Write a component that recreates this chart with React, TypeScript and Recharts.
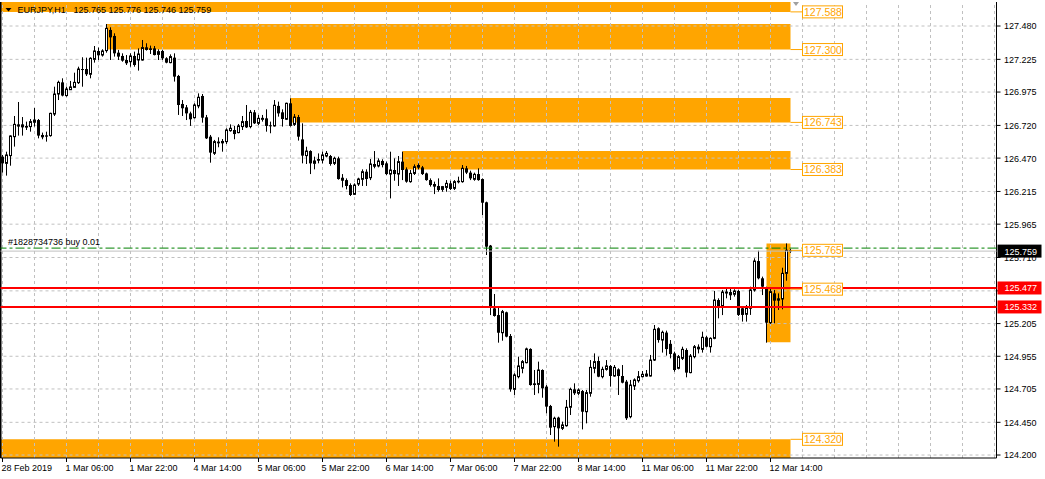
import React from "react";
import { ComposedChart, Bar, XAxis, YAxis, ReferenceLine, ReferenceArea } from "recharts";

// EURJPY H1, one entry per hourly bar (28 Feb 2019 14:00 .. 12 Mar 2019 19:00)
const opens = [
  126.481, 126.430, 126.489, 126.634, 126.728, 126.728, 126.716, 126.711, 126.744, 126.761,
  126.647, 126.644, 126.642, 126.807, 126.960, 127.049, 126.948, 126.993, 127.011, 127.047,
  127.151, 127.151, 127.111, 127.225, 127.289, 127.258, 127.292, 127.450, 127.404, 127.276,
  127.251, 127.220, 127.207, 127.251, 127.220, 127.220, 127.317, 127.309, 127.309, 127.263,
  127.289, 127.233, 127.200, 127.238, 127.098, 126.884, 126.858, 126.812, 126.779, 126.869,
  126.945, 126.782, 126.634, 126.507, 126.596, 126.601, 126.596, 126.680, 126.685, 126.665,
  126.711, 126.754, 126.711, 126.820, 126.736, 126.767, 126.774, 126.721, 126.716, 126.869,
  126.820, 126.767, 126.889, 126.728, 126.784, 126.613, 126.489, 126.524, 126.430, 126.463,
  126.455, 126.486, 126.486, 126.430, 126.468, 126.320, 126.302, 126.264, 126.193, 126.272,
  126.308, 126.366, 126.320, 126.425, 126.410, 126.448, 126.430, 126.348, 126.379, 126.348,
  126.443, 126.384, 126.290, 126.353, 126.417, 126.399, 126.353, 126.302, 126.272, 126.257,
  126.231, 126.246, 126.277, 126.239, 126.297, 126.290, 126.392, 126.359, 126.308, 126.348,
  126.310, 126.132, 125.801, 125.321, 125.270, 125.135, 125.291, 125.110, 124.702, 124.799,
  124.863, 124.906, 125.011, 124.748, 124.740, 124.850, 124.723, 124.575, 124.417, 124.486,
  124.404, 124.424, 124.565, 124.702, 124.672, 124.689, 124.531, 124.672, 124.863, 124.919,
  124.799, 124.855, 124.881, 124.804, 124.855, 124.804, 124.761, 124.493, 124.728, 124.768,
  124.799, 124.804, 124.804, 124.926, 125.169, 125.079, 125.136, 125.050, 124.977, 124.863,
  124.939, 125.003, 124.830, 124.952, 125.028, 125.008, 125.100, 125.028, 125.092, 125.385,
  125.339, 125.441, 125.446, 125.429, 125.454, 125.322, 125.276, 125.322, 125.462, 125.683,
  125.551, 125.474, 125.212, 125.436, 125.398, 125.393, 125.589, 125.765,
];

const highs = [
  126.494, 126.519, 126.644, 126.792, 126.899, 126.784, 126.749, 126.769, 126.853, 126.769,
  126.665, 126.672, 126.817, 127.016, 127.062, 127.080, 127.016, 127.060, 127.123, 127.169,
  127.241, 127.238, 127.241, 127.327, 127.315, 127.302, 127.495, 127.470, 127.424, 127.297,
  127.271, 127.258, 127.271, 127.284, 127.309, 127.373, 127.348, 127.330, 127.327, 127.302,
  127.297, 127.241, 127.263, 127.271, 127.106, 126.914, 126.876, 126.825, 126.889, 126.965,
  126.960, 126.800, 126.647, 126.609, 126.629, 126.616, 126.698, 126.728, 126.716, 126.731,
  126.792, 126.876, 126.838, 126.838, 126.800, 126.800, 126.843, 126.749, 126.914, 126.902,
  126.843, 126.894, 126.927, 126.807, 126.800, 126.736, 126.557, 126.530, 126.481, 126.506,
  126.519, 126.524, 126.494, 126.481, 126.481, 126.348, 126.315, 126.277, 126.277, 126.320,
  126.384, 126.384, 126.463, 126.524, 126.468, 126.461, 126.443, 126.519, 126.468, 126.486,
  126.519, 126.399, 126.379, 126.422, 126.430, 126.410, 126.359, 126.315, 126.290, 126.315,
  126.257, 126.302, 126.297, 126.302, 126.328, 126.417, 126.410, 126.374, 126.359, 126.392,
  126.315, 126.137, 125.806, 125.431, 125.334, 125.309, 125.296, 125.125, 124.825, 124.952,
  124.926, 125.021, 125.016, 124.850, 124.914, 124.855, 124.735, 124.583, 124.493, 124.493,
  124.455, 124.621, 124.715, 124.748, 124.710, 124.697, 124.697, 124.926, 124.977, 124.952,
  124.875, 124.926, 124.888, 124.888, 124.863, 124.888, 124.774, 124.774, 124.786, 124.842,
  124.842, 124.850, 124.965, 125.194, 125.176, 125.151, 125.151, 125.079, 124.990, 124.965,
  125.028, 125.016, 124.972, 125.041, 125.046, 125.143, 125.110, 125.100, 125.454, 125.398,
  125.462, 125.474, 125.474, 125.467, 125.462, 125.339, 125.347, 125.487, 125.704, 125.762,
  125.564, 125.487, 125.474, 125.462, 125.436, 125.632, 125.818, 125.776,
];

const lows = [
  126.359, 126.336, 126.412, 126.558, 126.642, 126.642, 126.685, 126.672, 126.711, 126.621,
  126.614, 126.596, 126.634, 126.792, 126.914, 126.942, 126.940, 126.991, 127.009, 127.037,
  127.016, 127.098, 127.080, 127.200, 127.220, 127.246, 127.276, 127.220, 127.246, 127.220,
  127.207, 127.182, 127.169, 127.169, 127.139, 127.215, 127.292, 127.266, 127.255, 127.220,
  127.220, 127.195, 127.195, 127.055, 126.800, 126.792, 126.761, 126.716, 126.772, 126.851,
  126.741, 126.616, 126.435, 126.494, 126.553, 126.519, 126.578, 126.672, 126.614, 126.660,
  126.685, 126.700, 126.698, 126.731, 126.723, 126.749, 126.672, 126.660, 126.711, 126.787,
  126.711, 126.761, 126.711, 126.716, 126.604, 126.430, 126.425, 126.348, 126.384, 126.430,
  126.430, 126.476, 126.412, 126.417, 126.305, 126.246, 126.231, 126.180, 126.188, 126.257,
  126.257, 126.257, 126.302, 126.392, 126.399, 126.399, 126.341, 126.162, 126.297, 126.257,
  126.302, 126.282, 126.282, 126.341, 126.384, 126.341, 126.297, 126.252, 126.195, 126.213,
  126.213, 126.213, 126.226, 126.226, 126.277, 126.282, 126.348, 126.302, 126.297, 126.297,
  126.035, 125.729, 125.270, 125.258, 125.059, 125.074, 125.100, 124.684, 124.659, 124.786,
  124.825, 124.901, 124.730, 124.659, 124.672, 124.638, 124.519, 124.353, 124.302, 124.264,
  124.391, 124.417, 124.506, 124.659, 124.659, 124.396, 124.442, 124.646, 124.825, 124.795,
  124.786, 124.845, 124.723, 124.799, 124.659, 124.748, 124.468, 124.481, 124.697, 124.753,
  124.794, 124.799, 124.800, 124.919, 125.059, 124.983, 124.960, 124.939, 124.837, 124.855,
  124.926, 124.794, 124.825, 124.939, 124.977, 124.983, 125.023, 124.983, 125.085, 125.245,
  125.270, 125.398, 125.385, 125.411, 125.263, 125.220, 125.220, 125.271, 125.449, 125.543,
  125.423, 125.059, 125.202, 125.207, 125.309, 125.314, 125.533, 125.746,
];

const closes = [
  126.430, 126.494, 126.639, 126.728, 126.711, 126.705, 126.703, 126.749, 126.761, 126.642,
  126.629, 126.634, 126.812, 126.960, 127.049, 126.948, 126.998, 127.014, 127.049, 127.151,
  127.146, 127.111, 127.233, 127.289, 127.256, 127.289, 127.462, 127.393, 127.271, 127.246,
  127.215, 127.195, 127.251, 127.182, 127.266, 127.315, 127.297, 127.297, 127.258, 127.284,
  127.233, 127.200, 127.246, 127.093, 126.876, 126.851, 126.812, 126.767, 126.876, 126.935,
  126.779, 126.621, 126.512, 126.596, 126.583, 126.583, 126.685, 126.698, 126.654, 126.716,
  126.749, 126.705, 126.820, 126.736, 126.774, 126.774, 126.716, 126.716, 126.874, 126.812,
  126.769, 126.889, 126.716, 126.784, 126.634, 126.489, 126.524, 126.430, 126.448, 126.450,
  126.494, 126.506, 126.425, 126.468, 126.310, 126.297, 126.257, 126.188, 126.264, 126.310,
  126.366, 126.310, 126.425, 126.404, 126.448, 126.417, 126.348, 126.379, 126.348, 126.443,
  126.379, 126.290, 126.353, 126.404, 126.397, 126.348, 126.302, 126.264, 126.252, 126.226,
  126.252, 126.277, 126.234, 126.290, 126.285, 126.392, 126.359, 126.315, 126.346, 126.302,
  126.129, 125.793, 125.334, 125.263, 125.135, 125.296, 125.105, 124.702, 124.812, 124.881,
  124.914, 125.011, 124.735, 124.735, 124.850, 124.710, 124.570, 124.409, 124.481, 124.404,
  124.430, 124.565, 124.702, 124.672, 124.697, 124.531, 124.677, 124.870, 124.914, 124.799,
  124.855, 124.881, 124.804, 124.870, 124.804, 124.753, 124.481, 124.735, 124.774, 124.799,
  124.817, 124.819, 124.926, 125.161, 125.079, 125.138, 125.010, 124.972, 124.850, 124.952,
  125.008, 124.830, 124.957, 125.028, 125.008, 125.100, 125.028, 125.092, 125.385, 125.339,
  125.446, 125.446, 125.421, 125.454, 125.271, 125.271, 125.322, 125.462, 125.683, 125.551,
  125.487, 125.212, 125.449, 125.380, 125.380, 125.589, 125.765, 125.759,
];

const timeTickIndex = [0, 16, 32, 48, 64, 80, 96, 112, 128, 144, 160, 176, 192];
const timeTickLabels = [
  "28 Feb 2019", "1 Mar 06:00", "1 Mar 22:00", "4 Mar 14:00", "5 Mar 06:00", "5 Mar 22:00",
  "6 Mar 14:00", "7 Mar 06:00", "7 Mar 22:00", "8 Mar 14:00", "11 Mar 06:00", "11 Mar 22:00",
  "12 Mar 14:00",
];
const gridColumns = [
  0, 8, 16, 24, 32, 40, 48, 56, 64, 72, 80, 88, 96, 104, 112, 120, 128, 136, 144, 152, 160,
  168, 176, 184, 192, 200, 208, 216, 224, 232, 240, 248,
];
const priceTicks = [
  127.48, 127.225, 126.975, 126.72, 126.47, 126.215, 125.965, 125.71, 125.455, 125.205,
  124.955, 124.705, 124.45, 124.2,
];

// supply / demand rectangles (bar index range, price range)
const zoneFrom = [-0.5, 26, 72, 100, 191, -0.5];
const zoneTo = [197, 197, 197, 197, 197, 197];
const zoneLow = [127.588, 127.3, 126.743, 126.383, 125.063, 124.1772];
const zoneHigh = [127.6635, 127.496, 126.93, 126.524, 125.818, 124.32];

const levelTags = [127.588, 127.3, 126.743, 126.383, 125.765, 125.468, 124.32];
const redLevels = [125.477, 125.332];
const bidPrice = 125.759;
const orderPrice = 125.782;
const orderText = "#1828734736 buy 0.01";
const title = "EURJPY,H1";
const titleOhlc = "125.765 125.776 125.746 125.759";

const PRICE_MIN = 124.1772;
const PRICE_MAX = 127.6635;
const FONT = "'Liberation Sans', Arial, sans-serif";
const ORANGE = "#FFA500";
const GRID = "#C0C0C0";

const candles = opens.map((o, i) => ({
  i,
  open: o,
  high: highs[i],
  low: lows[i],
  close: closes[i],
  range: [lows[i], highs[i]],
}));

const Candle = (props: any) => {
  const { x, y, width, height, payload } = props;
  if (x == null || y == null || !payload) return null;
  const cx = Math.round(x + width / 2 - 0.5) + 0.5;
  const top = Math.min(y, y + height);
  const h = Math.abs(height);
  const { open, high, low, close } = payload;
  const span = high - low || 1;
  const py = (p: number) => top + ((high - p) / span) * h;
  const bull = close >= open;
  const bTop = py(Math.max(open, close));
  const bBot = py(Math.min(open, close));
  const bh = Math.max(bBot - bTop, 1);
  return (
    <g>
      <line x1={cx} x2={cx} y1={top} y2={top + h} stroke="#000" strokeWidth={1} />
      {bull ? (
        <rect x={cx - 1} y={bTop} width={2} height={bh} fill="#fff" stroke="#000" strokeWidth={1} />
      ) : (
        <rect x={cx - 1.5} y={bTop} width={3} height={bh} fill="#000" />
      )}
    </g>
  );
};

const TimeTick = (props: any) => {
  const { x, y, payload } = props;
  const k = timeTickIndex.indexOf(payload.value);
  return (
    <text x={x - 1} y={y + 9} fontSize={9} fontFamily={FONT} fill="#000" textAnchor="start">
      {k >= 0 ? timeTickLabels[k] : ""}
    </text>
  );
};

// the tick under a red price box is fully hidden in the terminal
const PriceTick = (props: any) => {
  const { x, y, payload } = props;
  const v = Number(payload.value);
  if (redLevels.some((r) => Math.abs(r - v) < 0.03)) return null;
  return (
    <text x={x + 3.5} y={y + 3.4} fontSize={9} fontFamily={FONT} fill="#000" textAnchor="start">
      {v.toFixed(3)}
    </text>
  );
};

const axisBox = (bg: string, fg: string, price: number) => (props: any) => {
  const vb = props.viewBox || {};
  const x = vb.x + vb.width + 1;
  const y = vb.y;
  return (
    <g>
      <rect x={x} y={y - 6.5} width={44} height={13} fill={bg} />
      <text x={x + 7} y={y + 3.4} fontSize={9} fontFamily={FONT} fill={fg}>
        {price.toFixed(3)}
      </text>
    </g>
  );
};

const levelTag = (price: number) => (props: any) => {
  const vb = props.viewBox || {};
  const x = vb.x + vb.width;
  const y = vb.y;
  return (
    <g>
      <rect x={x} y={y - 6} width={40} height={12} fill="#fff" stroke={ORANGE} strokeWidth={1} />
      <text x={x + 1.5} y={y + 4} fontSize={10.5} fontFamily={FONT} fill={ORANGE}>
        {price.toFixed(3)}
      </text>
    </g>
  );
};

const orderLabel = (props: any) => {
  const vb = props.viewBox || {};
  return (
    <text x={vb.x + 7.5} y={vb.y - 3.5} fontSize={9} fontFamily={FONT} fill="#000">
      {orderText}
    </text>
  );
};

export default function App() {
  return (
    <div style={{ position: "absolute", left: 0, top: 0, width: 1045, height: 479, background: "#fff" }}>
      <ComposedChart
        width={1045}
        height={479}
        data={candles}
        margin={{ top: 2, right: 0, bottom: 0, left: 0.5 }}
      >
        <XAxis
          type="number"
          dataKey="i"
          domain={[-0.5, 248.5]}
          allowDataOverflow
          ticks={timeTickIndex}
          interval={0}
          height={21}
          tickSize={4}
          tickMargin={0}
          tickLine={{ stroke: "#000" }}
          axisLine={{ stroke: "#000" }}
          tick={<TimeTick />}
        />
        <YAxis
          orientation="right"
          type="number"
          domain={[PRICE_MIN, PRICE_MAX]}
          allowDataOverflow
          ticks={priceTicks}
          interval={0}
          width={48.5}
          tickSize={4}
          tickMargin={0}
          tickLine={{ stroke: "#000" }}
          axisLine={{ stroke: "#000" }}
          tick={<PriceTick />}
        />
        {zoneFrom.map((f, k) => (
          <ReferenceArea
            key={"z" + k}
            x1={f}
            x2={zoneTo[k]}
            y1={zoneLow[k]}
            y2={zoneHigh[k]}
            fill={ORANGE}
            fillOpacity={1}
            stroke="none"
            ifOverflow="hidden"
            zIndex={-150}
          />
        ))}
        {priceTicks.map((p) => (
          <ReferenceLine key={"h" + p} y={p} stroke={GRID} strokeDasharray="3 3" zIndex={-120} />
        ))}
        {gridColumns.map((c) => (
          <ReferenceLine key={"v" + c} x={c} stroke={GRID} strokeDasharray="3 3" zIndex={-120} />
        ))}
        <ReferenceLine x={-0.5} stroke="#000" strokeWidth={2} zIndex={-110} />
        <Bar dataKey="range" shape={Candle} barSize={3} isAnimationActive={false} />
        <ReferenceLine y={bidPrice} stroke={GRID} strokeWidth={1} zIndex={600} label={axisBox("#000", "#fff", bidPrice)} />
        <ReferenceLine
          y={orderPrice}
          stroke="#008000"
          strokeWidth={1}
          strokeDasharray="9 3 3 3"
          zIndex={600}
          label={orderLabel}
        />
        {redLevels.map((p) => (
          <ReferenceLine
            key={"r" + p}
            y={p}
            stroke="#FF0000"
            strokeWidth={2}
            zIndex={600}
            label={axisBox("#FF0000", "#fff", p)}
          />
        ))}
        {levelTags.map((p) => (
          <ReferenceLine
            key={"t" + p}
            segment={[
              { x: 197, y: p },
              { x: 200, y: p },
            ]}
            stroke={ORANGE}
            strokeWidth={1}
            zIndex={600}
            label={levelTag(p)}
          />
        ))}
      </ComposedChart>
      <svg
        width={1045}
        height={20}
        style={{ position: "absolute", left: 0, top: 0, pointerEvents: "none" }}
      >
        <polygon points="5.5,8 11.5,8 8.5,11.5" fill="#000" />
        <polygon points="793,2 799,2 796,6" fill="#A0A0A0" />
        <text x={17.5} y={12.7} fontSize={9} fontFamily={FONT} fill="#000">
          {title}
        </text>
        <text x={73.5} y={12.7} fontSize={9} fontFamily={FONT} fill="#000">
          {titleOhlc}
        </text>
      </svg>
    </div>
  );
}
